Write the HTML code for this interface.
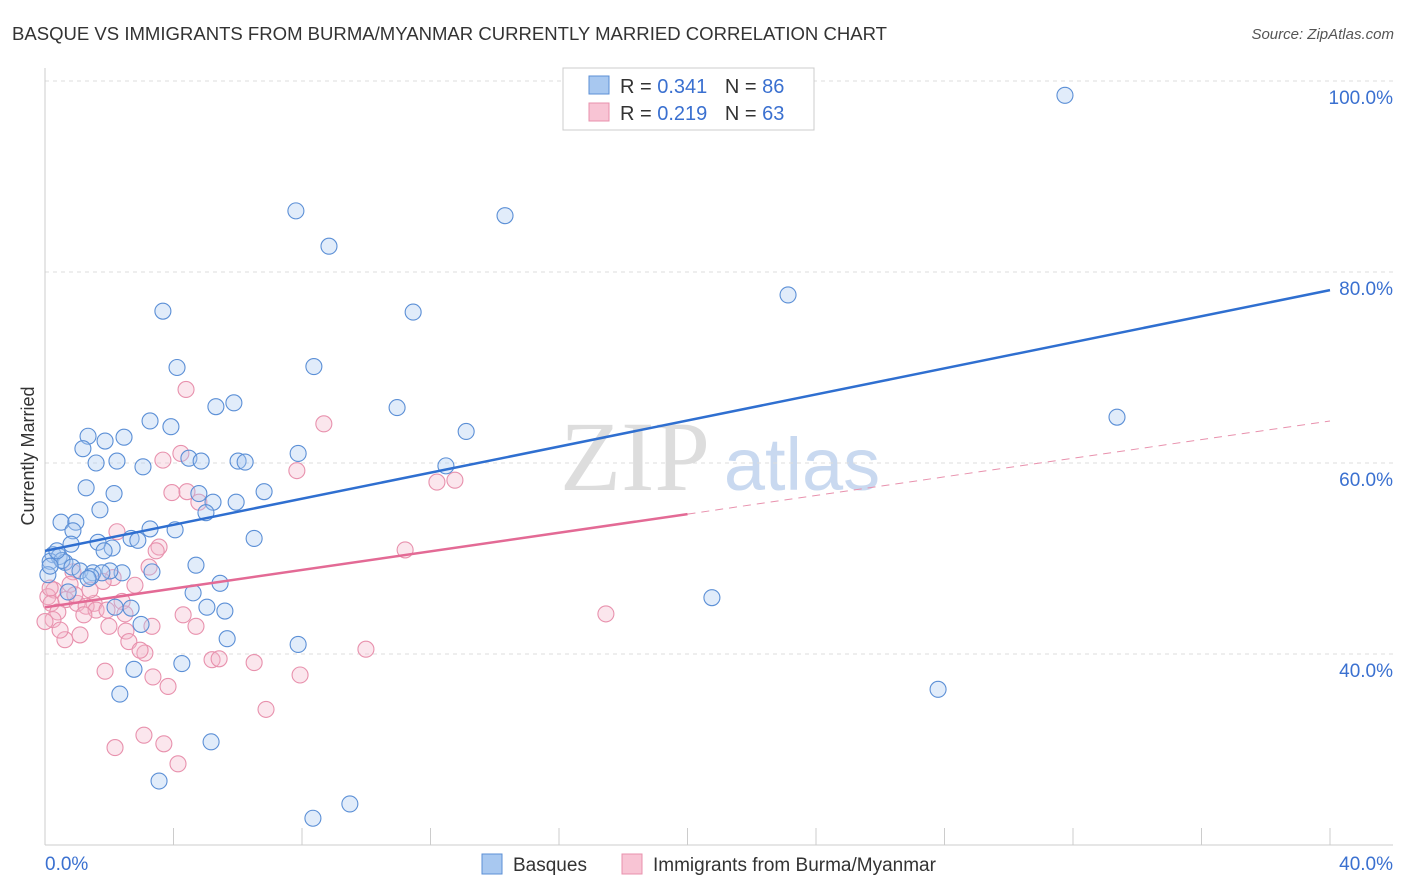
<!DOCTYPE html>
<html><head><meta charset="utf-8"><style>
body{margin:0;background:#fff;font-family:"Liberation Sans",sans-serif;}
svg{display:block}
</style></head><body>
<svg id="chart" width="1406" height="892">
<text x="12" y="40" font-size="18" fill="#333" textLength="875" lengthAdjust="spacingAndGlyphs">BASQUE VS IMMIGRANTS FROM BURMA/MYANMAR CURRENTLY MARRIED CORRELATION CHART</text>
<text x="1394" y="39" font-size="15" fill="#555" text-anchor="end" font-style="italic">Source: ZipAtlas.com</text>
<text x="34" y="456" font-size="18" fill="#333" text-anchor="middle" transform="rotate(-90 34 456)">Currently Married</text>
<g><text x="635" y="490" font-size="100" fill="#ddd" text-anchor="middle" font-family="Liberation Serif">ZIP</text><text x="802" y="490" font-size="74" fill="#c9d9f0" text-anchor="middle">atlas</text></g>
<g id="grid"></g><g id="axes"></g><g id="pts"></g><g id="lines"></g>
<g>
<rect x="563" y="68" width="251" height="62" fill="#fff" stroke="#ccc"/>
<rect x="589" y="76" width="20" height="18" fill="#a8c8f0" stroke="#5b8fd6"/>
<text x="620" y="93" font-size="20" fill="#333">R = <tspan fill="#3a70d0">0.341</tspan>  <tspan dx="12">N = </tspan><tspan fill="#3a70d0">86</tspan></text>
<rect x="589" y="103" width="20" height="18" fill="#f8c4d4" stroke="#e891ad"/>
<text x="620" y="120" font-size="20" fill="#333">R = <tspan fill="#3a70d0">0.219</tspan>  <tspan dx="12">N = </tspan><tspan fill="#3a70d0">63</tspan></text>
</g>
<g>
<rect x="482" y="854" width="20" height="20" fill="#a8c8f0" stroke="#5b8fd6"/>
<text x="513" y="871" font-size="19" fill="#333">Basques</text>
<rect x="622" y="854" width="20" height="20" fill="#f8c4d4" stroke="#e891ad"/>
<text x="653" y="871" font-size="19" fill="#333">Immigrants from Burma/Myanmar</text>
</g>
</svg>
<script>
const yTicks=[40,60,80,100];
const yTickLabels=["40.0%","60.0%","80.0%","100.0%"];
const xTickCount=10;
const basqueX=[31.75,7.81,14.32,8.84,23.13,3.67,11.46,4.11,8.37,10.96,5.32,5.88,3.27,3.92,13.11,1.34,2.46,1.87,1.18,7.88,4.48,4.86,1.59,2.24,3.05,6.01,6.23,12.48,1.28,2.15,4.79,6.82,5.95,5.23,5.01,1.71,0.50,0.96,0.87,3.27,4.05,2.68,2.89,6.51,1.65,0.81,2.09,1.84,33.37,0.25,0.44,0.16,0.62,0.53,4.70,0.84,1.09,2.40,1.49,2.02,3.33,1.77,0.09,1.43,5.45,0.72,4.61,20.76,2.18,5.04,5.60,2.68,2.99,5.67,7.88,4.26,2.77,2.33,27.80,5.17,3.55,9.49,8.34,0.16,0.37,1.34];
const basqueY=[98.5,86.4,85.9,82.7,77.6,75.9,75.8,70.0,70.1,65.8,65.9,66.3,64.4,63.8,63.3,62.8,62.7,62.3,61.5,61.0,60.5,60.2,60.0,60.2,59.6,60.2,60.1,59.7,57.4,56.8,56.8,57.0,55.9,55.9,54.8,55.1,53.8,53.8,52.9,53.1,53.0,52.1,51.9,52.1,51.7,51.5,51.1,50.8,64.8,50.4,50.2,49.7,49.6,49.8,49.3,49.1,48.7,48.5,48.5,48.7,48.6,48.5,48.3,48.1,47.4,46.5,46.4,45.9,44.9,44.9,44.5,44.8,43.1,41.6,41.0,39.0,38.4,35.8,36.3,30.8,26.7,24.3,22.8,49.2,50.8,47.9];
const burmaX=[4.39,8.68,4.23,3.67,7.84,12.20,12.76,3.95,4.42,4.79,2.24,3.55,11.21,3.46,3.24,0.87,2.12,1.81,2.80,0.28,0.09,0.65,0.19,1.53,1.00,2.40,1.28,1.59,1.93,0.40,1.21,4.30,17.46,0.25,2.49,4.70,3.33,1.99,0.0,2.52,1.09,0.62,2.61,3.11,9.99,5.20,5.42,6.51,1.87,7.94,3.36,3.83,6.88,3.08,2.18,3.70,4.14,0.16,0.78,0.47,2.96,1.40,0.93];
const burmaY=[67.7,64.1,61.0,60.3,59.2,58.0,58.2,56.9,57.0,55.9,52.8,51.2,50.9,50.8,49.1,48.6,48.0,47.6,47.2,46.7,46.0,45.7,45.3,45.3,45.3,45.5,45.0,44.6,44.6,44.4,44.1,44.1,44.2,43.6,44.2,42.9,42.9,42.9,43.4,42.4,42.0,41.5,41.3,40.1,40.5,39.4,39.5,39.1,38.2,37.8,37.6,36.6,34.2,31.5,30.2,30.6,28.5,46.9,47.3,42.5,40.4,46.7,46.2];
const basqueTrend=[50.8,78.1];
const burmaTrend=[44.9,64.4];
const burmaSolidEnd=20;
const NS="http://www.w3.org/2000/svg";
const X=v=>45+v/40*1285;
const Y=v=>81+(100-v)*9.55;
function mk(tag,attrs,parent){const e=document.createElementNS(NS,tag);for(const k in attrs)e.setAttribute(k,attrs[k]);document.getElementById(parent).appendChild(e);return e;}
yTicks.forEach((t,i)=>{
 const g=mk('line',{x1:45,x2:1393,y1:Y(t),y2:Y(t),stroke:'#ddd','stroke-dasharray':'4,4'},'grid');
 
 
 const l=mk('text',{x:1393,y:Y(t)+23,'font-size':19,fill:'#3a70d0','text-anchor':'end'},'grid');
 l.textContent=yTickLabels[i];
 
 
});
const ax=mk('line',{x1:45,x2:45,y1:68,y2:845,stroke:'#ccc'},'axes');


const bx=mk('line',{x1:45,x2:1393,y1:845,y2:845,stroke:'#ccc'},'axes');


for(let i=1;i<=xTickCount;i++){const t=mk('line',{x1:X(i*4),x2:X(i*4),y1:828,y2:845,stroke:'#ccc'},'axes');
 
 }
[[45,'0.0%','start'],[1393,'40.0%','end']].forEach(a=>{const t=mk('text',{x:a[0],y:870,'font-size':19,fill:'#3a70d0','text-anchor':a[2]},'axes');t.textContent=a[1];
 
 });
function pts(xs,ys,fill,stroke,name){xs.forEach((x,i)=>{const c=mk('circle',{cx:X(x),cy:Y(ys[i]),r:8,fill:fill,'fill-opacity':0.35,stroke:stroke,'stroke-width':1.1},'pts');
 
 });}
pts(burmaX,burmaY,'#f4b8cc','#e891ad','burma-point');
pts(basqueX,basqueY,'#a8c8f0','#5b8fd6','basque-point');
const bl=mk('line',{x1:X(0),y1:Y(basqueTrend[0]),x2:X(40),y2:Y(basqueTrend[1]),stroke:'#2f6fd0','stroke-width':2.5},'lines');


const pm=burmaTrend[0]+(burmaTrend[1]-burmaTrend[0])*burmaSolidEnd/40;
const pl=mk('line',{x1:X(0),y1:Y(burmaTrend[0]),x2:X(burmaSolidEnd),y2:Y(pm),stroke:'#e36a95','stroke-width':2.5},'lines');


const pd=mk('line',{x1:X(burmaSolidEnd),y1:Y(pm),x2:X(40),y2:Y(burmaTrend[1]),stroke:'#e891ad','stroke-width':1,'stroke-dasharray':'8,6'},'lines');


</script>
</body></html>
